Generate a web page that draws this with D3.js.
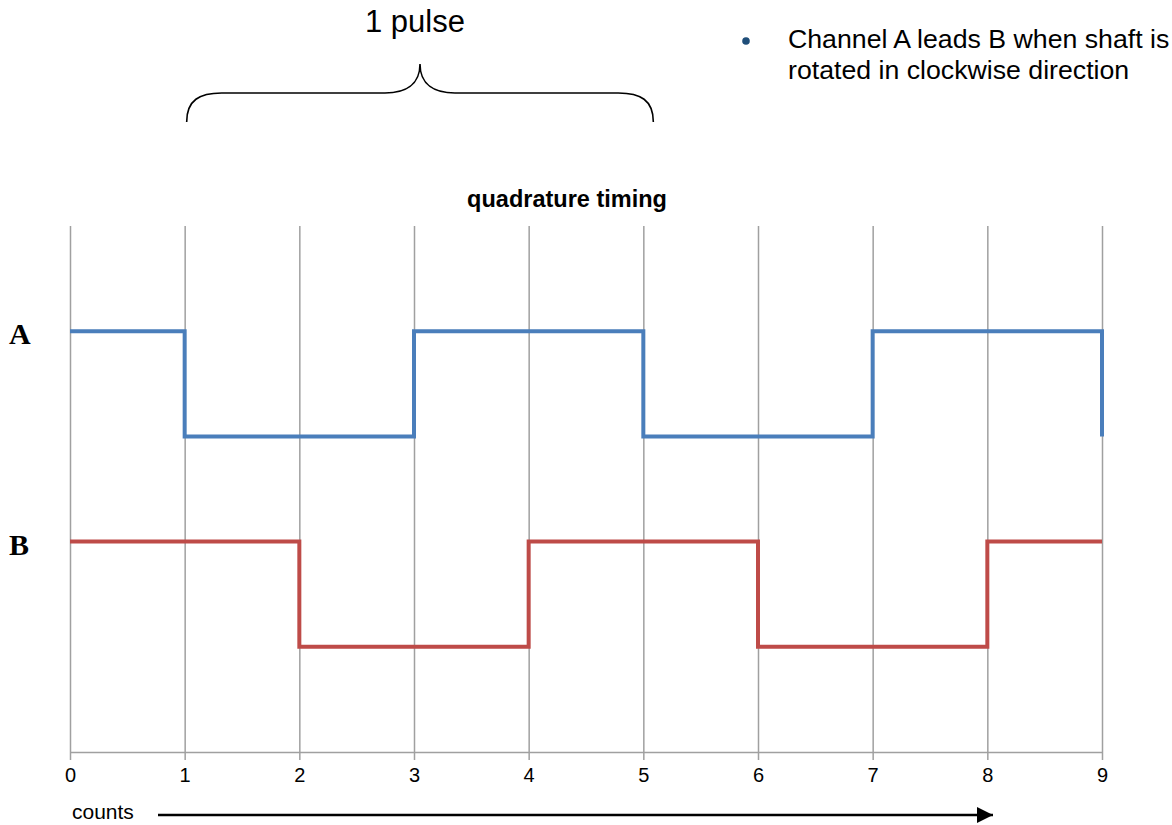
<!DOCTYPE html>
<meta charset="utf-8">

<!-- Load d3.js -->
<script src="https://d3js.org/d3.v7.min.js"></script>

<style>
  body { margin: 0; background: #fff; }
  text { font-family: "Liberation Sans", Arial, sans-serif; }
</style>

<!-- Create a div where the graph will take place -->
<div id="my_dataviz"></div>

<script>

// chart values
var counts = [0, 1, 2, 3, 4, 5, 6, 7, 8, 9];
var tickLabels = ["0", "1", "2", "3", "4", "5", "6", "7", "8", "9"];
var channelA = [4, 3, 3, 4, 4, 3, 3, 4, 4, 3];
var channelB = [2, 2, 1, 1, 2, 2, 1, 1, 2, 2];
var channelNames = ["A", "B"];
var channelLevels = [4, 2];          // "high" level of each channel, used for the side labels
var channelColors = ["#4a7ebb", "#be4b48"];

// set the dimensions of the graph
var width = 1172, height = 825;
var plot = {left: 70, right: 1102, top: 226, bottom: 752};

var svg = d3.select("#my_dataviz")
  .append("svg")
    .attr("width", width)
    .attr("height", height);

var x = d3.scaleLinear().domain([0, 9]).range([plot.left, plot.right]);
var y = d3.scaleLinear().domain([0, 5]).range([plot.bottom, plot.top]);

// x axis with full-height grid lines
var xAxis = svg.append("g")
  .attr("transform", "translate(0," + plot.bottom + ")")
  .call(d3.axisBottom(x)
    .tickValues(counts)
    .tickFormat(function(d, i) { return tickLabels[i]; })
    .tickSizeInner(8)
    .tickSizeOuter(0)
    .tickPadding(8));

xAxis.select(".domain").attr("stroke", "#a0a0a0").attr("stroke-width", 1.5);
xAxis.selectAll(".tick line")
  .attr("y1", -(plot.bottom - plot.top))
  .attr("stroke", "#a0a0a0")
  .attr("stroke-width", 1.5);
xAxis.selectAll(".tick text")
  .attr("font-size", 20)
  .attr("fill", "#000");

// channel traces
var line = d3.line()
  .x(function(d, i) { return x(counts[i]); })
  .y(function(d) { return y(d); })
  .curve(d3.curveStepAfter);

svg.selectAll(".trace")
  .data([channelA, channelB])
  .enter()
  .append("path")
  .attr("class", "trace")
  .attr("d", line)
  .attr("fill", "none")
  .attr("stroke", function(d, i) { return channelColors[i]; })
  .attr("stroke-width", 4)
  .attr("stroke-linejoin", "miter");

// channel labels
svg.selectAll(".chlabel")
  .data(channelNames)
  .enter()
  .append("text")
  .attr("class", "chlabel")
  .attr("x", 9)
  .attr("y", function(d, i) { return y(channelLevels[i]) + 13; })
  .style("font-family", "Liberation Serif, Times New Roman, serif")
  .style("font-weight", "bold")
  .attr("font-size", 30)
  .text(function(d) { return d; });

// title
svg.append("text")
  .attr("x", 567)
  .attr("y", 207)
  .attr("text-anchor", "middle")
  .attr("font-weight", "bold")
  .attr("font-size", 23.5)
  .text("quadrature timing");

// brace over one pulse (counts 1 to 5)
var bx0 = x(1) + 2, bx1 = x(5) + 10, bmid = 420;
svg.append("path")
  .attr("d", "M" + bx0 + ",122 C" + bx0 + ",100 " + (bx0 + 13) + ",93 " + (bx0 + 35) + ",93" +
             " L" + (bmid - 35) + ",93 C" + (bmid - 15) + ",93 " + bmid + ",85 " + bmid + ",64" +
             " C" + bmid + ",85 " + (bmid + 15) + ",93 " + (bmid + 35) + ",93" +
             " L" + (bx1 - 35) + ",93 C" + (bx1 - 13) + ",93 " + bx1 + ",100 " + bx1 + ",122")
  .attr("fill", "none")
  .attr("stroke", "#000")
  .attr("stroke-width", 1.6);

svg.append("text")
  .attr("x", 415)
  .attr("y", 32)
  .attr("text-anchor", "middle")
  .attr("font-size", 31)
  .text("1 pulse");

// bullet note
svg.append("circle")
  .attr("cx", 746)
  .attr("cy", 41)
  .attr("r", 3.8)
  .attr("fill", "#1f4e79");

var note = svg.append("text")
  .attr("x", 788)
  .attr("y", 48)
  .attr("font-size", 26.7);
note.append("tspan").attr("x", 788).text("Channel A leads B when shaft is");
note.append("tspan").attr("x", 788).attr("dy", 31).text("rotated in clockwise direction");

// counts arrow
svg.append("defs").append("marker")
  .attr("id", "triangle")
  .attr("viewBox", "0 0 16 16")
  .attr("refX", 16)
  .attr("refY", 8)
  .attr("markerWidth", 16)
  .attr("markerHeight", 16)
  .attr("markerUnits", "userSpaceOnUse")
  .attr("orient", "auto")
  .append("path")
  .attr("d", "M0,0 L16,8 L0,16 Z")
  .style("fill", "black");

svg.append("line")
  .attr("x1", 158)
  .attr("y1", 815)
  .attr("x2", 993)
  .attr("y2", 815)
  .attr("stroke", "#000")
  .attr("stroke-width", 2.5)
  .attr("marker-end", "url(#triangle)");

svg.append("text")
  .attr("x", 72)
  .attr("y", 819)
  .attr("font-size", 21)
  .text("counts");

</script>
